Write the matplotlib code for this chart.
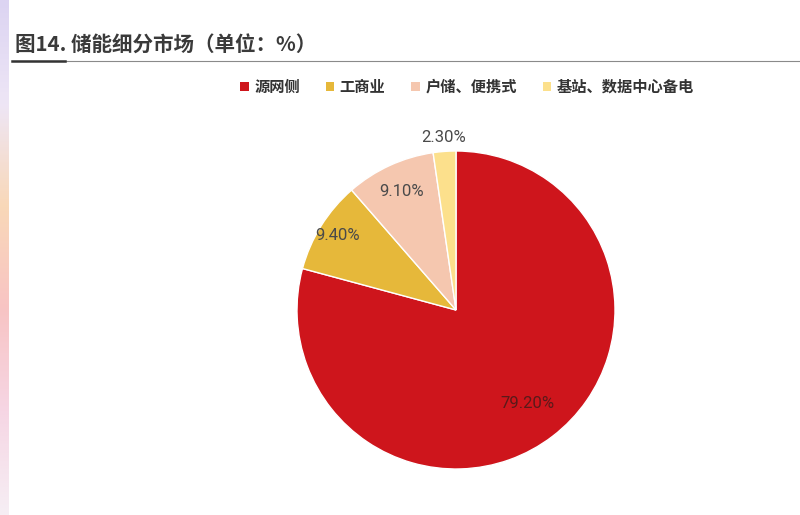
import matplotlib
matplotlib.use("Agg")
import matplotlib.pyplot as plt
from matplotlib.lines import Line2D
from matplotlib.patches import Patch
from matplotlib.colors import LinearSegmentedColormap
import numpy as np

plt.rcParams['font.family'] = ['Noto Sans CJK SC', 'DejaVu Sans']

title = "图14. 储能细分市场（单位：%）"
labels = ["源网侧", "工商业", "户储、便携式", "基站、数据中心备电"]
values = [79.2, 9.4, 9.1, 2.3]
colors = ["#CE151C", "#E6B83A", "#F5C7AF", "#FCE08C"]


def main():
    fig = plt.figure(figsize=(8, 5.15), dpi=100)

    # faint coloured strip on the left edge of the scan
    strip = fig.add_axes([0, 0, 0.011, 1])
    cmap = LinearSegmentedColormap.from_list(
        "edge", ["#DCD4F2", "#EEE6F6", "#F9D8B8", "#F8C4C4", "#F6D6E4", "#F6EEF4"])
    strip.imshow(np.linspace(0, 1, 200).reshape(-1, 1), aspect="auto", cmap=cmap)
    strip.axis("off")

    # title and underline
    fig.text(15 / 800, 1 - 45 / 515, title, fontsize=14.8, fontweight="bold",
             color="#3A3A3A", va="center", ha="left")
    fig.add_artist(Line2D([12 / 800, 1.0], [1 - 61 / 515] * 2,
                          color="#8A8A8A", lw=0.8))
    fig.add_artist(Line2D([12 / 800, 65 / 800], [1 - 61 / 515] * 2,
                          color="#333333", lw=1.8))

    # pie: centre (456, 310) px, radius 159 px
    r = 159
    ax = fig.add_axes([(456 - r) / 800, (515 - 310 - r) / 515,
                       2 * r / 800, 2 * r / 515])
    wedges, _ = ax.pie(values, colors=colors, startangle=90, counterclock=False,
                       radius=1, wedgeprops=dict(edgecolor="white", linewidth=1))
    ax.set_xlim(-1, 1)
    ax.set_ylim(-1, 1)
    ax.axis("off")

    # data labels, placed along each wedge's middle angle
    dist = [0.74, 0.88, 0.82, 1.09]
    lab_col = ["#5A1A1A", "#4A4A4A", "#4A4A4A", "#4A4A4A"]
    for w, v, d, c in zip(wedges, values, dist, lab_col):
        ang = np.deg2rad((w.theta1 + w.theta2) / 2)
        ax.text(d * np.cos(ang), d * np.sin(ang), f"{v:.2f}%",
                ha="center", va="center", fontsize=12, color=c,
                family=["Roboto", "DejaVu Sans"])

    handles = [Patch(facecolor=c, edgecolor="none") for c in colors]
    fig.legend(handles, labels, loc="center", ncol=4,
               bbox_to_anchor=(467 / 800, 1 - 87 / 515), frameon=False,
               handlelength=0.55, handleheight=0.55,
               handletextpad=0.35, columnspacing=1.7,
               labelcolor="#333333", prop={"weight": "bold", "size": 11})

    fig.savefig("out.png", dpi=100, facecolor="white")


if __name__ == "__main__":
    main()
